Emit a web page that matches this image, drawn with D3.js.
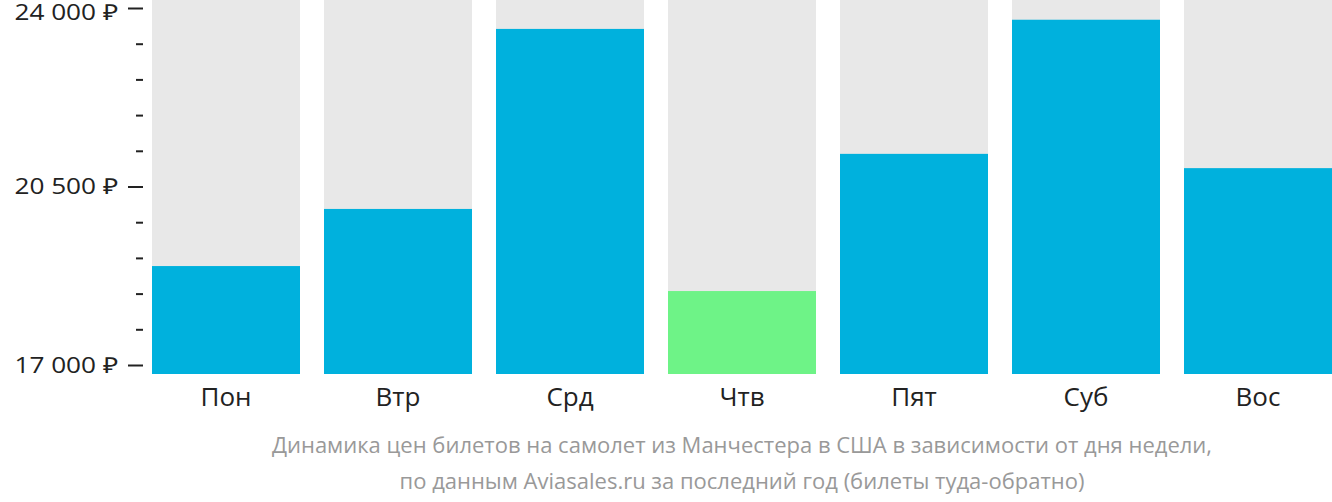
<!DOCTYPE html>
<html>
<head>
<meta charset="utf-8">
<script src="https://cdn.jsdelivr.net/npm/d3@7"></script>
<style>
  html, body { margin: 0; padding: 0; background: #fff; }
  svg { display: block; font-family: "Open Sans", sans-serif; }
</style>
</head>
<body>
<svg id="chart" width="1332" height="502"></svg>
<script>
// Prices by weekday
var days = ["Пон", "Втр", "Срд", "Чтв", "Пят", "Суб", "Вос"];
var prices = [18940, 20060, 23590, 18450, 21140, 23770, 20860];
var cheapest = "Чтв";
var majorTicks = [17000, 20500, 24000];
var minorTicks = [17700, 18400, 19100, 19800, 21200, 21900, 22600, 23300];
var caption = [
  "Динамика цен билетов на самолет из Манчестера в США в зависимости от дня недели,",
  "по данным Aviasales.ru за последний год (билеты туда-обратно)"
];

var svg = d3.select("#chart");
var plotTop = 0, plotBottom = 374;
var stretch = 1.19; // y labels look wider than the font

var x = d3.scaleBand().domain(days).range([152, 1332])
  .paddingInner(24 / 172).paddingOuter(0);
var y = d3.scaleLinear().domain([17000, 24000]).range([365, 8]);

function fmt(v) { return d3.format(",")(v).replace(/,/g, "\u00a0") + " ₽"; }

// gray background columns
svg.append("g").selectAll("rect").data(days).enter().append("rect")
  .attr("x", function (d) { return x(d); })
  .attr("y", plotTop)
  .attr("width", x.bandwidth())
  .attr("height", plotBottom - plotTop)
  .attr("fill", "#e8e8e8");

// value bars
svg.append("g").selectAll("rect").data(days).enter().append("rect")
  .attr("x", function (d) { return x(d); })
  .attr("y", function (d, i) { return y(prices[i]); })
  .attr("width", x.bandwidth())
  .attr("height", function (d, i) { return plotBottom - y(prices[i]); })
  .attr("fill", function (d) { return d === cheapest ? "#6ef387" : "#00b1dd"; });

// y axis: major ticks with labels
var yMajor = d3.axisLeft(y).tickValues(majorTicks).tickSize(15).tickPadding(10).tickFormat(fmt);
var gMaj = svg.append("g").attr("transform", "translate(143,0)").call(yMajor);
gMaj.select(".domain").remove();
gMaj.selectAll("line").attr("stroke", "#222").attr("stroke-width", 2);
gMaj.selectAll("text").attr("fill", "#222").style("font-size", "22px")
  .style("font-family", "'Open Sans', sans-serif")
  .attr("x", -25 / stretch)
  .attr("transform", "scale(" + stretch + ",1)")
  .attr("dy", function (d) { return d === 24000 ? "0.5em" : "0.32em"; });

var yMinor = d3.axisLeft(y).tickValues(minorTicks).tickSize(7).tickFormat("");
var gMin = svg.append("g").attr("transform", "translate(143,0)").call(yMinor);
gMin.select(".domain").remove();
gMin.selectAll("line").attr("stroke", "#222").attr("stroke-width", 2);

// x axis labels
var gx = svg.append("g").attr("transform", "translate(0," + plotBottom + ")")
  .call(d3.axisBottom(x).tickSize(0).tickPadding(0));
gx.select(".domain").remove();
gx.selectAll("text").attr("fill", "#222").style("font-size", "26px")
  .style("font-family", "'Open Sans', sans-serif")
  .attr("y", 32).attr("dy", null);

// caption
svg.append("g").selectAll("text").data(caption).enter().append("text")
  .attr("x", 742)
  .attr("y", function (d, i) { return 453 + i * 36; })
  .attr("text-anchor", "middle")
  .attr("fill", "#999")
  .style("font-size", "22px")
  .text(function (d) { return d; });
</script>
</body>
</html>
